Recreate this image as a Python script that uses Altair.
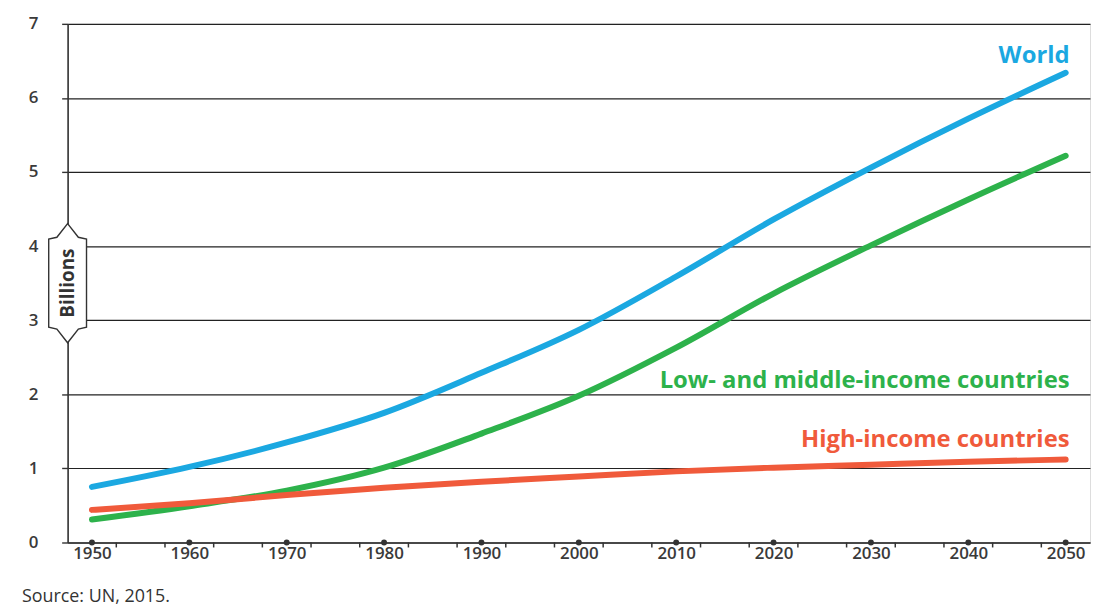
import altair as alt
import pandas as pd

years = [1950, 1960, 1970, 1980, 1990, 2000, 2010, 2020, 2030, 2040, 2050]
world = [0.75, 1.02, 1.35, 1.75, 2.29, 2.87, 3.59, 4.36, 5.06, 5.72, 6.34]
low_middle = [0.31, 0.49, 0.70, 1.01, 1.47, 1.98, 2.63, 3.36, 4.01, 4.63, 5.22]
high = [0.44, 0.53, 0.64, 0.74, 0.82, 0.89, 0.96, 1.01, 1.05, 1.09, 1.12]

series_names = ["World", "Low- and middle-income countries", "High-income countries"]
series_colors = ["#1BA8E1", "#2DB24B", "#F05A3B"]
label_y = [6.56, 2.18, 1.38]
y_ticks = [0, 1, 2, 3, 4, 5, 6, 7]

minor_ticks = sorted(set([y + 2.5 for y in years[:-1]] + [y - 2.5 for y in years[1:]]))

rows = []
for name, vals in zip(series_names, [world, low_middle, high]):
    for yr, v in zip(years, vals):
        rows.append({"year": yr, "value": v, "series": name})
df = pd.DataFrame(rows)

labels = pd.DataFrame({"series": series_names, "year": [2050.4] * 3, "value": label_y})
dots = pd.DataFrame({"year": years, "value": [0] * len(years)})
minor = pd.DataFrame({"year": minor_ticks, "value": [0] * len(minor_ticks)})

FONT = "Open Sans"
W, H = 1029, 522

xscale = alt.Scale(domain=[1947.5, 2052.5], nice=False, zero=False)
yscale = alt.Scale(domain=[0, 7], nice=False)
color = alt.Color("series:N", scale=alt.Scale(domain=series_names, range=series_colors), legend=None)

lines = alt.Chart(df).mark_line(strokeWidth=6, strokeCap="round", interpolate="monotone").encode(
    x=alt.X("year:Q", scale=xscale, axis=alt.Axis(
        values=years, title=None, grid=False, format="d",
        labelOverlap=False, labelFlush=False,
        tickSize=0, domainColor="#333", domainWidth=1.6,
        labelFont=FONT, labelFontSize=17, labelFontWeight=600, labelColor="#3a3a3a", labelPadding=3,
    )),
    y=alt.Y("value:Q", scale=yscale, axis=alt.Axis(
        values=y_ticks, title=None, grid=True, gridColor="#222", gridWidth=1.2, format="d",
        tickSize=6, tickColor="#333", tickWidth=1.4, domainColor="#333", domainWidth=1.6,
        labelFont=FONT, labelFontSize=17, labelFontWeight=600, labelColor="#3a3a3a", labelPadding=24,
    )),
    color=color,
    order=alt.Order("series:N"),
)

minor_marks = alt.Chart(minor).mark_rule(color="#333", strokeWidth=1.5).encode(
    x=alt.X("year:Q", scale=xscale), y=alt.Y("value:Q", scale=yscale), y2=alt.value(H + 5)
)

dot_marks = alt.Chart(dots).mark_point(filled=True, size=36, color="#333", opacity=1).encode(
    x=alt.X("year:Q", scale=xscale), y=alt.Y("value:Q", scale=yscale)
)

text_marks = alt.Chart(labels).mark_text(
    align="right", baseline="middle", font=FONT, fontSize=24, fontWeight="bold"
).encode(
    x=alt.X("year:Q", scale=xscale), y=alt.Y("value:Q", scale=yscale), text="series:N", color=color
)

shape_path = ("M0,-1 L0.18,-0.77 L0.317,-0.74 L0.317,0.74 L0.18,0.77 L0,1 "
              "L-0.18,0.77 L-0.317,0.74 L-0.317,-0.74 L-0.18,-0.77 Z")
title_df = pd.DataFrame({"t": ["Billions"], "yv": [3.5]})
title_box = alt.Chart(title_df).mark_point(
    shape=shape_path, size=14400, filled=True, fill="white", stroke="#333", strokeWidth=1.4, opacity=1
).encode(x=alt.value(0), y=alt.Y("yv:Q", scale=yscale))

title_text = alt.Chart(title_df).mark_text(
    angle=270, font=FONT, fontSize=19, fontWeight="bold", color="#333", baseline="middle", align="center"
).encode(x=alt.value(0), y=alt.Y("yv:Q", scale=yscale), text="t:N")

chart = alt.layer(lines, minor_marks, dot_marks, text_marks, title_box, title_text).properties(
    width=W, height=H,
    autosize=alt.AutoSizeParams(type="none"),
    padding={"left": 60, "top": 14, "right": 2, "bottom": 68},
    title=alt.TitleParams(
        "Source: UN, 2015.", orient="bottom", anchor="start", frame="group", dx=-46, offset=27,
        font=FONT, fontSize=18, fontWeight="normal", color="#333",
    ),
).configure_view(stroke="#222", strokeWidth=1.4).configure(background="white")

chart.save("out.html", embed_options={"renderer": "svg", "actions": False})
